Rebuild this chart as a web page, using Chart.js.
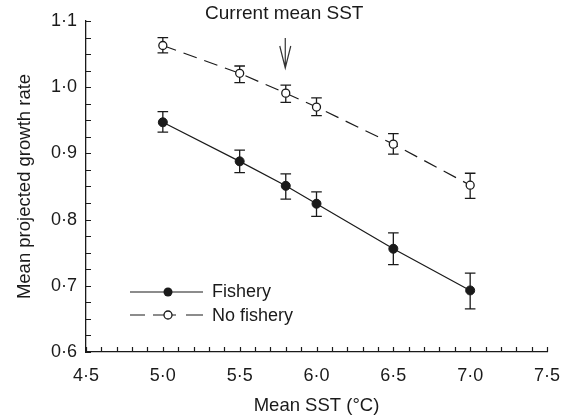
<!DOCTYPE html>
<html>
<head>
<meta charset="utf-8">
<script src="https://cdn.jsdelivr.net/npm/chart.js@4.4.1/dist/chart.umd.min.js"></script>
<style>
  html, body { margin: 0; padding: 0; background: #fff; }
  #wrap { width: 575px; height: 418px; position: relative; }
</style>
</head>
<body>
<div id="wrap"><canvas id="myChart"></canvas></div>
<script>
// data
const sst = [5.0, 5.5, 5.8, 6.0, 6.5, 7.0];
const fishery = [0.947, 0.888, 0.851, 0.824, 0.756, 0.693];
const fisheryLo = [0.932, 0.871, 0.831, 0.805, 0.732, 0.665];
const fisheryHi = [0.963, 0.905, 0.869, 0.842, 0.780, 0.719];
const noFishery = [1.063, 1.021, 0.991, 0.970, 0.914, 0.852];
const noFisheryLo = [1.052, 1.007, 0.977, 0.957, 0.899, 0.832];
const noFisheryHi = [1.075, 1.032, 1.003, 0.984, 0.930, 0.870];
const currentSST = 5.8;
const seriesNames = ['Fishery', 'No fishery'];

const ink = '#1a1a1a';
const fontFamily = '"Liberation Sans", Arial, Helvetica, sans-serif';

function fmt(v) {
    return v.toFixed(1).replace('.', '\u00B7');
}
function isMultiple(v, step) {
    const r = v / step;
    return Math.abs(r - Math.round(r)) < 1e-6;
}

// inward tick marks for every tick of both axes
const innerTicks = {
    id: 'innerTicks',
    afterDraw(chart) {
        const c = chart.ctx;
        const a = chart.chartArea;
        c.save();
        c.strokeStyle = ink;
        c.lineWidth = 1.2;
        c.beginPath();
        chart.scales.x.ticks.forEach(t => {
            const px = Math.round(chart.scales.x.getPixelForValue(t.value)) + 0.5;
            c.moveTo(px, a.bottom);
            c.lineTo(px, a.bottom - 5);
        });
        chart.scales.y.ticks.forEach(t => {
            const py = Math.round(chart.scales.y.getPixelForValue(t.value)) + 0.5;
            c.moveTo(a.left, py);
            c.lineTo(a.left + 5, py);
        });
        c.stroke();
        c.restore();
    }
};

// error bars, drawn under the markers
const errorBars = {
    id: 'errorBars',
    beforeDatasetsDraw(chart) {
        const c = chart.ctx;
        const xs = chart.scales.x, ys = chart.scales.y;
        const sets = [[fisheryLo, fisheryHi], [noFisheryLo, noFisheryHi]];
        c.save();
        c.strokeStyle = ink;
        c.lineWidth = 1.3;
        sets.forEach(([lo, hi]) => {
            sst.forEach((x, i) => {
                const px = xs.getPixelForValue(x);
                const pLo = ys.getPixelForValue(lo[i]);
                const pHi = ys.getPixelForValue(hi[i]);
                c.beginPath();
                c.moveTo(px, pLo); c.lineTo(px, pHi);
                c.moveTo(px - 5.3, pLo); c.lineTo(px + 5.3, pLo);
                c.moveTo(px - 5.3, pHi); c.lineTo(px + 5.3, pHi);
                c.stroke();
            });
        });
        c.restore();
    }
};

// "Current mean SST" note with arrow, and the legend inside the plot
const annotations = {
    id: 'annotations',
    afterDraw(chart) {
        const c = chart.ctx;
        const a = chart.chartArea;
        const px = chart.scales.x.getPixelForValue(currentSST) - 0.5;
        c.save();
        c.fillStyle = ink;
        c.strokeStyle = '#333';
        c.font = '19px ' + fontFamily;
        c.textAlign = 'center';
        c.textBaseline = 'middle';
        c.fillText('Current mean SST', px - 1, 14);
        c.lineWidth = 1.2;
        c.beginPath();
        c.moveTo(px, 38); c.lineTo(px, 68);
        c.moveTo(px - 5.5, 46); c.lineTo(px, 68); c.lineTo(px + 5.5, 46);
        c.stroke();

        // legend
        c.font = '18px ' + fontFamily;
        const x0 = a.left + 44, x1 = a.left + 117, mx = a.left + 82;
        const y1 = 292, y2 = 315;
        c.strokeStyle = ink;
        c.lineWidth = 1.2;
        c.beginPath();
        c.moveTo(x0, y1); c.lineTo(x1, y1);
        c.moveTo(x0, y2); c.lineTo(x0 + 15, y2);
        c.moveTo(x0 + 23, y2); c.lineTo(mx + 8, y2);
        c.moveTo(x1 - 17, y2); c.lineTo(x1, y2);
        c.stroke();
        c.beginPath();
        c.arc(mx, y1, 4.5, 0, Math.PI * 2);
        c.fillStyle = ink;
        c.fill();
        c.beginPath();
        c.arc(mx, y2, 4, 0, Math.PI * 2);
        c.fillStyle = '#fff';
        c.fill();
        c.lineWidth = 1.3;
        c.stroke();
        c.fillStyle = ink;
        c.textAlign = 'left';
        c.fillText(chart.data.datasets[0].label, a.left + 126, y1);
        c.fillText(chart.data.datasets[1].label, a.left + 126, y2 + 1);
        c.restore();
    }
};

const ctx = document.getElementById('myChart').getContext('2d');
Chart.defaults.font.family = fontFamily;
Chart.defaults.font.size = 18;
Chart.defaults.color = ink;

const myChart = new Chart(ctx, {
    type: 'scatter',
    data: {
        datasets: [
            {
                label: seriesNames[0],
                data: sst.map((x, i) => ({ x: x, y: fishery[i] })),
                showLine: true,
                borderColor: ink,
                borderWidth: 1.2,
                pointRadius: 4.5,
                pointBackgroundColor: ink,
                pointBorderColor: ink,
                pointBorderWidth: 1
            },
            {
                label: seriesNames[1],
                data: sst.map((x, i) => ({ x: x, y: noFishery[i] })),
                showLine: true,
                borderColor: ink,
                borderWidth: 1.2,
                borderDash: [14, 8],
                pointRadius: 4,
                pointBackgroundColor: '#fff',
                pointBorderColor: ink,
                pointBorderWidth: 1.3
            }
        ]
    },
    options: {
        responsive: true,
        maintainAspectRatio: false,
        animation: false,
        layout: { padding: { top: 21, right: 28, left: 0, bottom: 0 } },
        plugins: {
            legend: { display: false },
            tooltip: { enabled: false }
        },
        scales: {
            x: {
                type: 'linear',
                min: 4.5,
                max: 7.5,
                afterFit: s => { s.height = 66; },
                grid: { display: false, drawTicks: false },
                border: { display: true, color: ink, width: 1.3 },
                ticks: {
                    stepSize: 0.1,
                    autoSkip: false,
                    maxRotation: 0,
                    padding: 13,
                    callback: v => isMultiple(v, 0.5) ? fmt(v) : ''
                },
                title: {
                    display: true,
                    text: 'Mean SST (\u00B0C)',
                    font: { size: 18.5 },
                    padding: { top: 0, bottom: 1 }
                }
            },
            y: {
                type: 'linear',
                min: 0.6,
                max: 1.1,
                afterFit: s => { s.width = 86; },
                grid: { display: false, drawTicks: false },
                border: { display: true, color: ink, width: 1.3 },
                ticks: {
                    stepSize: 0.025,
                    autoSkip: false,
                    padding: 9,
                    callback: v => isMultiple(v, 0.1) ? fmt(v) : ''
                },
                title: {
                    display: true,
                    text: 'Mean projected growth rate',
                    font: { size: 18.5 },
                    padding: { top: 14, bottom: 0 }
                }
            }
        }
    },
    plugins: [errorBars, innerTicks, annotations]
});
</script>
</body>
</html>
